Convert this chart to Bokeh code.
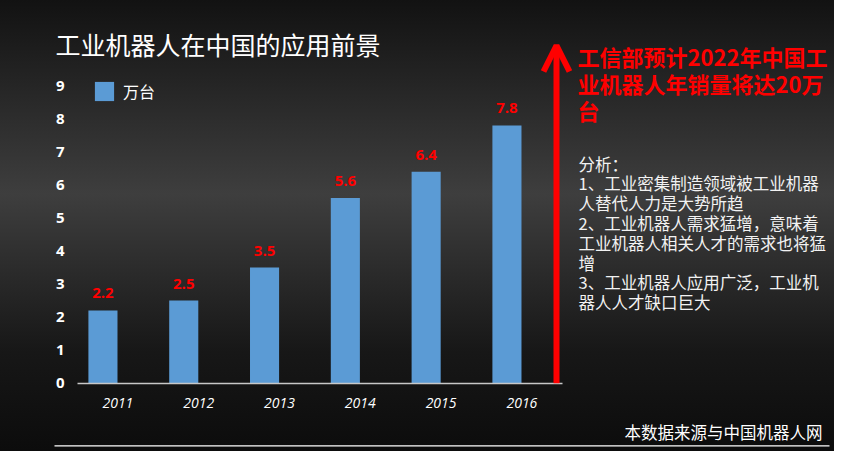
from bokeh.plotting import figure
from bokeh.models import (Range1d, FixedTicker, Label, Arrow, OpenHead, LinearAxis,
                          ColumnDataSource, Legend, LegendItem)
from bokeh.core.properties import value
from bokeh.embed import file_html
from bokeh.resources import INLINE

# ---- data ----
years = ["2011", "2012", "2013", "2014", "2015", "2016"]
sales = [2.2, 2.5, 3.5, 5.6, 6.4, 7.8]
y_ticks = [0, 1, 2, 3, 4, 5, 6, 7, 8, 9]
series_name = "万台"
title_text = "工业机器人在中国的应用前景"
headline_lines = ["工信部预计2022年中国工", "业机器人年销量将达20万", "台"]
analysis_lines = [
    "分析：",
    "1、工业密集制造领域被工业机器",
    "人替代人力是大势所趋",
    "2、工业机器人需求猛增，意味着",
    "工业机器人相关人才的需求也将猛",
    "增",
    "3、工业机器人应用广泛，工业机",
    "器人人才缺口巨大",
]
source_text = "本数据来源与中国机器人网"

CJK = "Noto Sans CJK SC"
LAT = "Open Sans"

BAR_OFFSET = -0.185
idx = list(range(len(years)))
src = ColumnDataSource(dict(
    pos=[i + BAR_OFFSET for i in idx], value=sales,
    label=[f"{v:.1f}" for v in sales]))

H = 451
p = figure(width=834, height=H, output_backend="svg", toolbar_location=None,
           x_range=Range1d(-1.453, 8.869), y_range=Range1d(-2.067, 11.579),
           min_border=0, x_axis_type=None, y_axis_type=None)
p.background_fill_color = None
p.border_fill_color = None
p.outline_line_color = None
p.styles = {"background": "linear-gradient(180deg, #121212 0%, #3e3e3e 43%, #171717 78%, #0c0c0c 100%)"}
p.grid.visible = False

bars = p.vbar(x="pos", top="value", width=0.36, source=src,
              fill_color="#5b9bd5", line_color=None)

p.text(x="pos", y="value", text="label", source=src,
       text_color="#ff0000", text_font=value(LAT), text_font_style="bold",
       text_font_size="15px", text_align="center", text_baseline="middle", y_offset=-17)

# axes (fixed inside the full-size frame)
yax = LinearAxis(ticker=FixedTicker(ticks=y_ticks), fixed_location=-0.5, bounds=(0, 9))
yax.axis_line_color = None
yax.major_tick_line_color = None
yax.minor_tick_line_color = None
yax.major_tick_out = 0
yax.major_tick_in = 0
yax.major_label_standoff = 13
yax.major_label_text_color = "white"
yax.major_label_text_font = LAT
yax.major_label_text_font_style = "bold"
yax.major_label_text_font_size = "15px"
p.add_layout(yax, "left")

xax = LinearAxis(ticker=FixedTicker(ticks=idx), fixed_location=0, bounds=(-0.5, 5.5),
                 major_label_overrides={i: y for i, y in zip(idx, years)})
xax.axis_line_color = "#c8c8c8"
xax.axis_line_width = 1.5
xax.major_tick_line_color = None
xax.minor_tick_line_color = None
xax.major_tick_out = 0
xax.major_tick_in = 0
xax.major_label_standoff = 15
xax.major_label_text_color = "white"
xax.major_label_text_font = LAT
xax.major_label_text_font_style = "italic"
xax.major_label_text_font_size = "14px"
p.add_layout(xax, "below")

# legend
legend = Legend(items=[LegendItem(label=series_name, renderers=[bars])],
                location=(92, H - 103), glyph_width=24, glyph_height=24, label_standoff=7,
                padding=0, margin=0, spacing=0, border_line_color=None,
                background_fill_alpha=0, label_text_color="white",
                label_text_font=CJK, label_text_font_size="16px")
p.add_layout(legend)

# screen positions: origin at bottom-left of the figure, y upward
p.add_layout(Label(x=55, y=H - 43, x_units="screen", y_units="screen", text=title_text,
                   text_color="white", text_font=CJK, text_font_size="25px",
                   text_baseline="middle", text_align="left"))

p.add_layout(Arrow(x_start=556, y_start=H - 382.7, x_end=556, y_end=H - 45,
                   start_units="screen", end_units="screen",
                   line_color="#ff0000", line_width=6,
                   end=OpenHead(size=26, line_color="#ff0000", line_width=6)))

for i, t in enumerate(headline_lines):
    p.add_layout(Label(x=577, y=H - 55 - 27 * i, x_units="screen", y_units="screen", text=t,
                       text_color="#ff0000", text_font=CJK, text_font_style="bold",
                       text_font_size="22px", text_baseline="middle", text_align="left"))

for i, t in enumerate(analysis_lines):
    p.add_layout(Label(x=578, y=H - 163 - 19.8 * i, x_units="screen", y_units="screen", text=t,
                       text_color="#f2f2f2", text_font=CJK,
                       text_font_size="16.5px", text_baseline="middle", text_align="left"))

p.add_layout(Label(x=822, y=H - 431, x_units="screen", y_units="screen", text=source_text,
                   text_color="white", text_font=CJK, text_font_size="16.5px",
                   text_baseline="middle", text_align="right"))
p.add_layout(Arrow(x_start=54, y_start=H - 445.3, x_end=829, y_end=H - 445.3,
                   start_units="screen", end_units="screen", end=None,
                   line_color="white", line_width=1.2))

open("out.html", "w").write(file_html(p, INLINE))
